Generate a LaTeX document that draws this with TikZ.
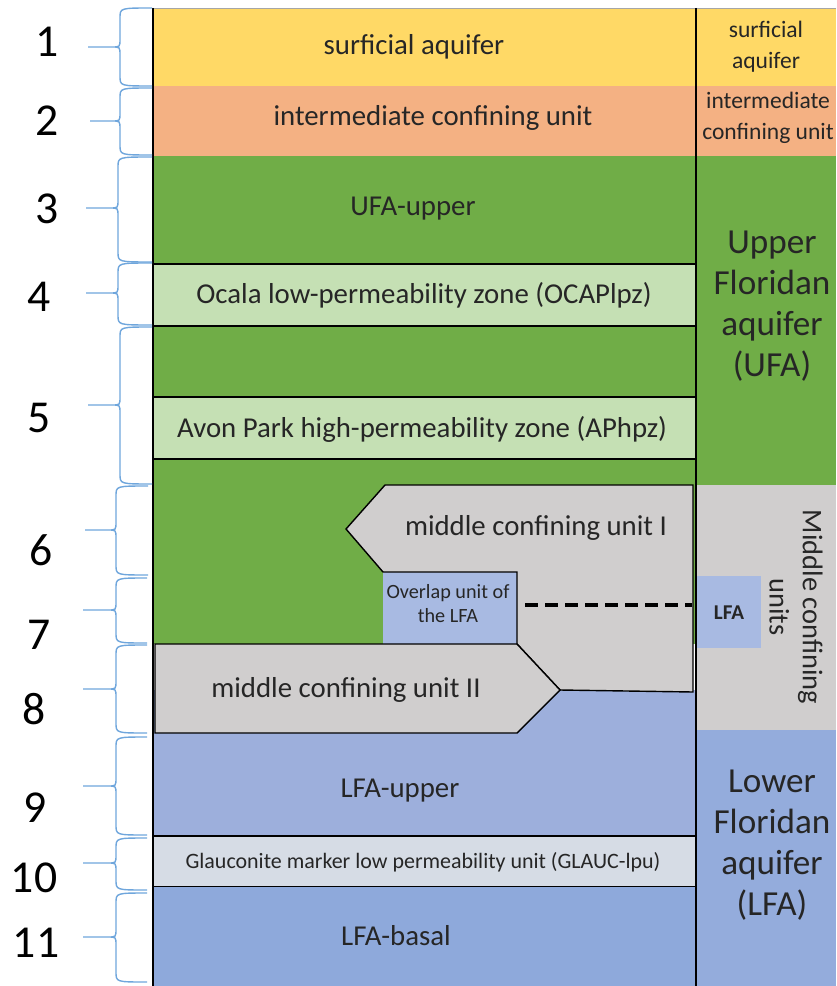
\documentclass[tikz,border=0pt]{standalone}
\usepackage{fontspec}
\setmainfont{Carlito}

\definecolor{surfcol}{HTML}{FFD966}
\definecolor{iccol}{HTML}{F4B183}
\definecolor{ufacol}{HTML}{70AD47}
\definecolor{zonecol}{HTML}{C5E0B4}
\definecolor{mcucol}{HTML}{D0CECE}
\definecolor{lfaupcol}{HTML}{9DAFDC}
\definecolor{lfabascol}{HTML}{8EA9DB}
\definecolor{lfarcol}{HTML}{94ACDC}
\definecolor{ovlcol}{HTML}{A8BAE2}
\definecolor{glaucol}{HTML}{D6DCE5}
\definecolor{bracecol}{HTML}{6FA6DC}

\begin{document}
\begin{tikzpicture}[x=0.02cm,y=-0.02cm,
  unit/.style={draw=black,line width=0.8pt},
  lbl/.style={font=\fontsize{16.4}{19.5}\selectfont,text=black!85},
  rsmall/.style={font=\fontsize{13.4}{17.6}\selectfont,text=black!85,align=center},
  rbig/.style={font=\fontsize{20}{23.3}\selectfont,text=black!85,align=center},
  rmid/.style={font=\fontsize{16.2}{18.8}\selectfont,text=black!85,align=center},
  ovl/.style={font=\fontsize{11.5}{13.7}\selectfont,text=black!85,align=center},
  numlbl/.style={font=\fontsize{26}{30}\selectfont,text=black},
  aqbrace/.style={draw=bracecol,line width=0.8pt}]

  \useasboundingbox (0,0) rectangle (836,986);

  % colour bands
  \fill[surfcol] (153,8) rectangle (836,86);
  \fill[iccol] (153,86) rectangle (836,156);
  \fill[ufacol] (153,156) rectangle (836,485);
  \fill[ufacol] (153,485) rectangle (696,644);
  \fill[mcucol] (696,485) rectangle (836,730);
  \fill[lfarcol] (696,730) rectangle (836,986);
  \fill[ovlcol] (697,576) rectangle (761,648);

  % zones of the left column
  \draw[unit,fill=zonecol] (153,264) rectangle (696,326);
  \draw[unit,fill=zonecol] (153,397) rectangle (696,459);
  \fill[lfaupcol] (153,690) rectangle (696,836);
  \draw[unit,fill=glaucol] (153,836) rectangle (696,887);
  \fill[lfabascol] (153,887) rectangle (696,986);
  \fill[ovlcol] (383,572) rectangle (517,644);
  \draw[unit,fill=mcucol] (385,485) -- (693,485) -- (693,692) -- (560,690)
    -- (517,644) -- (517,572) -- (383,572) -- (346,529) -- cycle;
  \draw[unit,fill=mcucol] (155,644) -- (517,644) -- (560,690) -- (517,733)
    -- (155,733) -- cycle;

  % frame
  \draw[gray!70,line width=0.5pt] (153,8) -- (836,8);
  \draw[line width=1.2pt] (153,8) -- (153,986);
  \draw[unit] (696,8) -- (696,986);

  \coordinate (dashL) at (525,605);
  \coordinate (dashR) at (692,605);
  \draw[line width=1.9pt,dash pattern=on 7.4pt off 4pt] (dashL) -- (dashR);

  % left column labels
  \node[lbl] (surf) at (414,47) {surficial aquifer};
  \node[lbl] (icu) at (433,118) {intermediate confining unit};
  \node[lbl] (ufaup) at (413,209) {UFA-upper};
  \node[lbl] (ocala) at (424,295) {Ocala low-permeability zone (OCAPlpz)};
  \node[lbl] (avon) at (422,429) {Avon Park high-permeability zone (APhpz)};
  \node[lbl] (mcuI) at (536,528) {middle confining unit I};
  \node[ovl] (ovlap) at (448,604) {Overlap unit of\\the LFA};
  \node[lbl] (mcuII) at (346,690) {middle confining unit II};
  \node[lbl] (lfaup) at (400,791) {LFA-upper};
  \node[font=\fontsize{12.5}{15}\selectfont,text=black!85] (glauc) at (423,862)
    {Glauconite marker low permeability unit (GLAUC-lpu)};
  \node[lbl] (lfabas) at (396,936) {LFA-basal};

  % right column labels
  \node[rsmall] (surfR) at (766,47) {surficial\\aquifer};
  \node[rsmall] (icuR) at (768,118) {intermediate\\confining unit};
  \node[rbig] (ufaR) at (772,306) {Upper\\Floridan\\aquifer\\(UFA)};
  \node[rmid,rotate=-90] (mcuR) at (796,607) {Middle confining\\units};
  \node[font=\fontsize{12}{14}\selectfont\bfseries,text=black!85] (lfaR) at (729,613) {LFA};
  \node[rbig] (lfaR2) at (772,845) {Lower\\Floridan\\aquifer\\(LFA)};

  % braces and numbers
  \foreach \ya/\yb/\yt/\xe/\xm/\xt/\nx/\ny/\n in {
      8/86/47/152/120/88/47/42/1, 88/155/121/152/120/90/47/121/2,
      157/262/208/152/118/86/47/209/3, 263/325/293/152/118/86/39/297/4,
      327/484/405/152/120/88/39/418/5, 486/575/530/148/116/85/41/550/6,
      578/643/610/147/116/83/39/635/7, 645/733/689/147/116/83/34/709/8,
      737/835/786/147/116/83/35/808/9, 838/890/863/147/116/83/34/878/10,
      893/982/937/147/116/83/36/943/11}{
    \draw[aqbrace] (\xe,\ya) .. controls (\xm,\ya) .. (\xm,\ya+10)
      -- (\xm,\yt-8) .. controls (\xm,\yt) .. (\xm-8,\yt) -- (\xt,\yt)
      (\xm-8,\yt) .. controls (\xm,\yt) .. (\xm,\yt+8)
      -- (\xm,\yb-10) .. controls (\xm,\yb) .. (\xe,\yb);
    \node[numlbl] (num\n) at (\nx,\ny) {\n};
  }
\end{tikzpicture}
\end{document}
